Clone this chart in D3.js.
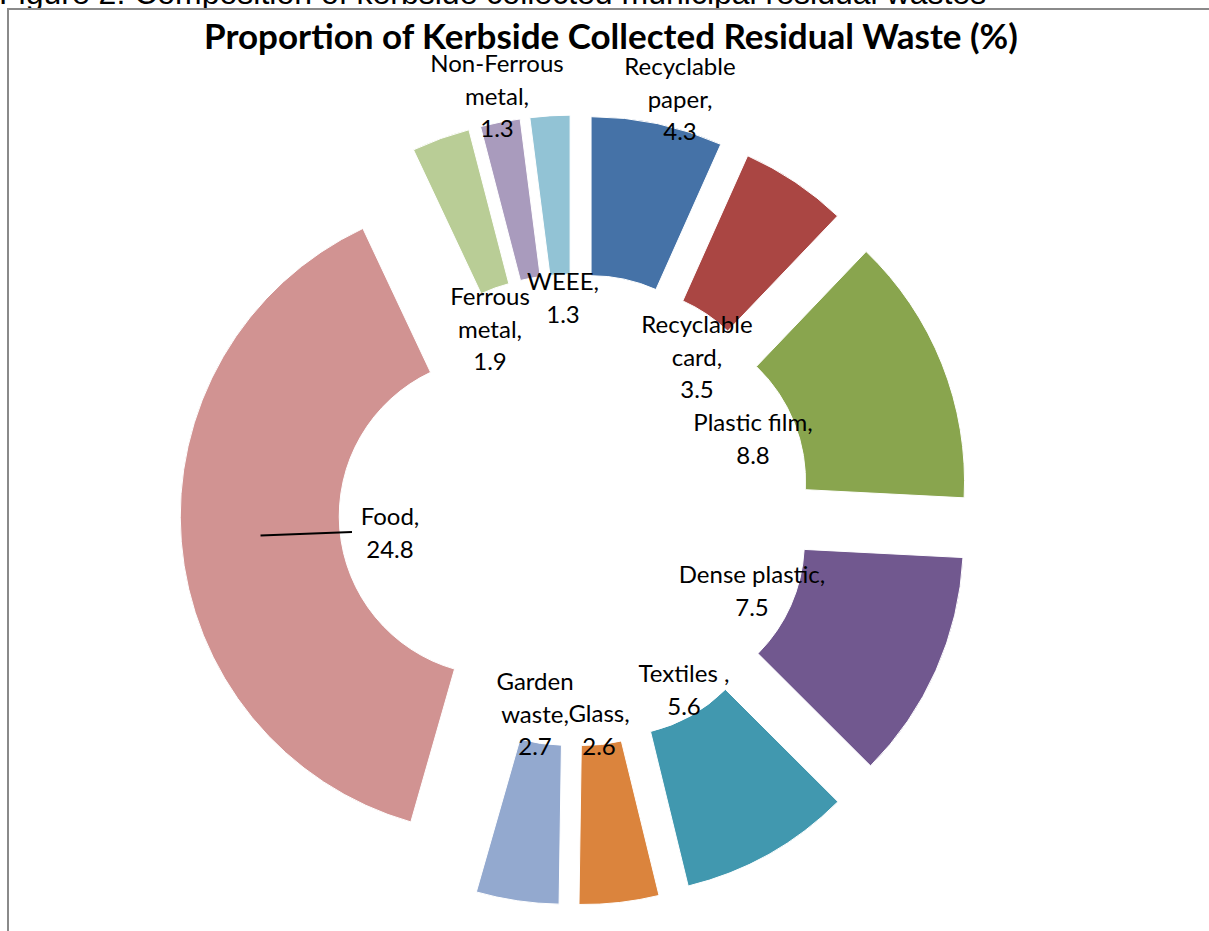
<!DOCTYPE html>
<html>
<head>
<meta charset="utf-8">
<script src="https://cdn.jsdelivr.net/npm/d3@7"></script>
<style>
  html, body { margin: 0; padding: 0; background: #fff; overflow: hidden; }
  svg { display: block; }
</style>
</head>
<body>
<div id="chart"></div>
<script>
// data (clockwise from 12 o'clock)
var categories = ["Recyclable paper", "Recyclable card", "Plastic film", "Dense plastic",
                  "Textiles ", "Glass", "Garden waste", "Food", "Ferrous metal",
                  "Non-Ferrous metal", "WEEE"];
var values = [4.3, 3.5, 8.8, 7.5, 5.6, 2.6, 2.7, 24.8, 1.9, 1.3, 1.3];
var colours = ["#4572a7", "#aa4643", "#89a54e", "#71588f", "#4198af", "#db843d",
               "#93a9cf", "#d19392", "#b9cd96", "#a99bbd", "#92c3d5"];
var title = "Proportion of Kerbside Collected Residual Waste (%)";
var caption = "Figure 2: Composition of kerbside collected municipal residual wastes";

// label placement (offset from the doughnut centre, first line) and wrapping
var labelLayout = {
    "Recyclable paper":  { dx: 105,  dy: -443, wrap: true },
    "Recyclable card":   { dx: 122,  dy: -185, wrap: true },
    "Plastic film":      { dx: 178,  dy: -87,  wrap: false },
    "Dense plastic":     { dx: 177,  dy: 65,   wrap: false },
    "Textiles ":         { dx: 109,  dy: 164,  wrap: false },
    "Glass":             { dx: 24,   dy: 204,  wrap: false },
    "Garden waste":      { dx: -40,  dy: 172,  wrap: true },
    "Food":              { dx: -185, dy: 7,    wrap: true, leader: true },
    "Ferrous metal":     { dx: -85,  dy: -213, wrap: true },
    "Non-Ferrous metal": { dx: -78,  dy: -446, wrap: true },
    "WEEE":              { dx: -12,  dy: -228, wrap: true }
};

var width = 1209, height = 931;
var cx = 575, cy = 510;
var outerR = 318, innerR = 159, explode = 77;
var lineH = 32.5;

var svg = d3.select("#chart").append("svg")
    .attr("width", width)
    .attr("height", height);

// caption of the surrounding document, cut off at the top
svg.append("text")
    .attr("x", -1)
    .attr("y", 4)
    .attr("font-family", "Liberation Sans, Arial, sans-serif")
    .attr("font-size", 32)
    .attr("fill", "#000")
    .text(caption);

// chart frame
svg.append("rect")
    .attr("x", 8)
    .attr("y", 9)
    .attr("width", width + 20)
    .attr("height", height + 20)
    .attr("fill", "#fff")
    .attr("stroke", "#8a8a8a")
    .attr("stroke-width", 2);

svg.append("text")
    .attr("x", 611)
    .attr("y", 49)
    .attr("text-anchor", "middle")
    .attr("font-family", "Lato, Noto Sans, sans-serif")
    .attr("font-weight", "bold")
    .attr("font-size", 35)
    .attr("fill", "#000")
    .text(title);

var pie = d3.pie()
    .sort(null)
    .value(function (d) { return d; });

var arcs = pie(values);

var arc = d3.arc()
    .innerRadius(innerR)
    .outerRadius(outerR);

function shift(d) {
    var a = (d.startAngle + d.endAngle) / 2;
    return [explode * Math.sin(a), -explode * Math.cos(a)];
}

var g = svg.append("g")
    .attr("transform", "translate(" + cx + "," + cy + ")");

g.selectAll("path.slice")
    .data(arcs)
    .enter().append("path")
    .attr("class", "slice")
    .attr("transform", function (d) {
        var s = shift(d);
        return "translate(" + s[0] + "," + s[1] + ")";
    })
    .attr("d", arc)
    .attr("fill", function (d, i) { return colours[i]; })
    .attr("stroke", "#fff")
    .attr("stroke-width", 1);

function labelLines(name, value) {
    var lay = labelLayout[name];
    var lines;
    if (lay.wrap) {
        lines = name.trim().split(" ");
    } else {
        lines = [name];
    }
    lines[lines.length - 1] += ",";
    lines.push(String(value));
    return lines;
}

// leader line for the food slice
arcs.forEach(function (d, i) {
    var lay = labelLayout[categories[i]];
    if (!lay.leader) return;
    var c = arc.centroid(d);
    var s = shift(d);
    g.append("line")
        .attr("x1", c[0] + s[0])
        .attr("y1", c[1] + s[1])
        .attr("x2", lay.dx - 38)
        .attr("y2", lay.dy + 15)
        .attr("stroke", "#000")
        .attr("stroke-width", 2);
});

var labels = g.selectAll("text.lbl")
    .data(arcs)
    .enter().append("text")
    .attr("class", "lbl")
    .attr("font-family", "Lato, Noto Sans, sans-serif")
    .attr("font-size", 24)
    .attr("fill", "#000")
    .attr("text-anchor", "middle");

labels.each(function (d, i) {
    var name = categories[i];
    var lay = labelLayout[name];
    var lines = labelLines(name, values[i]);
    d3.select(this).selectAll("tspan")
        .data(lines)
        .enter().append("tspan")
        .attr("x", lay.dx)
        .attr("y", function (t, j) { return lay.dy + j * lineH; })
        .attr("dy", "0.35em")
        .text(function (t) { return t; });
});
</script>
</body>
</html>
